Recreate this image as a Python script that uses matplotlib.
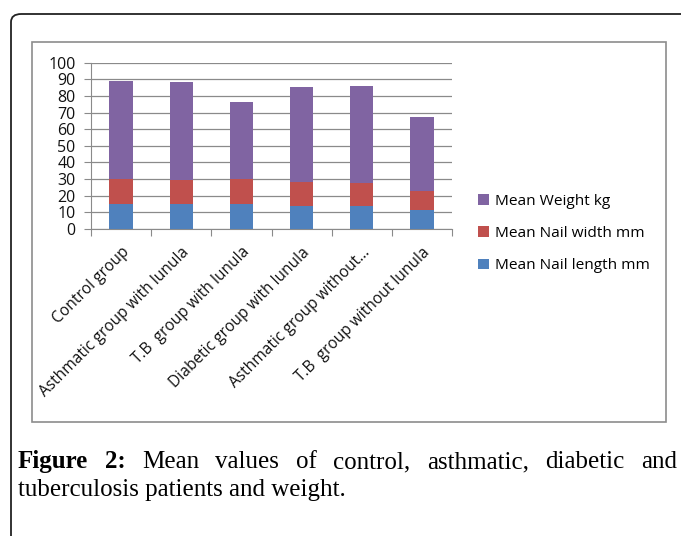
import numpy as np
import matplotlib
matplotlib.use('Agg')
import matplotlib.pyplot as plt
from matplotlib.patches import FancyBboxPatch, Rectangle

groups = ['Control group', 'Asthmatic group with lunula', 'T.B  group with lunula',
          'Diabetic group with lunula', 'Asthmatic group without...', 'T.B  group without lunula']
nail_length = [15.2, 15.2, 15.2, 14.0, 14.0, 11.4]
nail_width = [14.7, 14.3, 14.7, 14.3, 13.5, 11.6]
weight = [59.3, 58.7, 46.5, 57.3, 58.7, 44.3]
series_names = ['Mean Nail length mm', 'Mean Nail width mm', 'Mean Weight kg']
colors = ['#4F81BD', '#C0504D', '#8064A2']

W, H = 681, 536
fig = plt.figure(figsize=(W / 100, H / 100), dpi=100)

# outer black rounded frame (runs off the right/bottom edge)
frame = FancyBboxPatch((11 / W, 1 - 600 / H), 700 / W, (600 - 14) / H,
                       boxstyle='round,pad=0,rounding_size=0.015',
                       transform=fig.transFigure, fill=False, edgecolor='#222222',
                       linewidth=1.3, clip_on=False)
fig.patches.append(frame)

# inner grey chart box
box = Rectangle((32 / W, 1 - 422 / H), (666 - 32) / W, (422 - 42) / H,
                transform=fig.transFigure, fill=False, edgecolor='#8c8c8c', linewidth=1.2)
fig.patches.append(box)

ax = fig.add_axes([91 / W, 1 - 229 / H, (452 - 91) / W, (229 - 62.7) / H])
x = np.arange(len(groups))
bottom = np.zeros(len(groups))
handles = []
for vals, name, c in zip([nail_length, nail_width, weight], series_names, colors):
    b = ax.bar(x, vals, 0.39, bottom=bottom, color=c, label=name, zorder=3)
    handles.append(b)
    bottom += np.array(vals)

ax.set_xlim(-0.5, len(groups) - 0.5)
ax.set_ylim(0, 100)
ax.set_yticks(np.arange(0, 101, 10))
ax.grid(axis='y', color='#8a8a8a', linewidth=0.9, zorder=0)
for s in ['top', 'right']:
    ax.spines[s].set_visible(False)
ax.spines['left'].set_color('#8a8a8a')
ax.spines['bottom'].set_color('#8a8a8a')
ax.tick_params(axis='y', length=5, color='#8a8a8a', labelsize=11.5, pad=6)
ax.set_xticks(np.arange(-0.5, len(groups), 1))
ax.set_xticklabels([])
ax.tick_params(axis='x', which='major', length=5, color='#8a8a8a')
ax.set_xticks(x, minor=True)
ax.set_xticklabels(groups, minor=True, rotation=45, ha='right', rotation_mode='anchor',
                   fontsize=11.2)
ax.tick_params(axis='x', which='minor', length=0, pad=11)
for lab in ax.get_yticklabels() + ax.get_xticklabels(minor=True):
    lab.set_family('Open Sans')
    lab.set_color('#111111')

leg = fig.legend(handles[::-1], series_names[::-1], loc='upper left',
                 bbox_to_anchor=(464 / W, 1 - 180 / H), frameon=False,
                 prop={'family': 'Open Sans', 'size': 11.1}, handlelength=0.7,
                 handleheight=0.7, handletextpad=0.4, labelspacing=1.12)

# justified caption
fig.canvas.draw()
r = fig.canvas.get_renderer()
words = [('Figure', True), ('2:', True), ('Mean', False), ('values', False), ('of', False),
         ('control,', False), ('asthmatic,', False), ('diabetic', False), ('and', False)]
fs = 18
texts = []
for w, bold in words:
    t = fig.text(0, 0, w, fontsize=fs, family='Liberation Serif',
                 weight='bold' if bold else 'normal', va='baseline')
    texts.append(t)
widths = [t.get_window_extent(r).width for t in texts]
x0, x1 = 18, 677
gap = (x1 - x0 - sum(widths)) / (len(words) - 1)
cx = x0
for t, w in zip(texts, widths):
    t.set_position((cx / W, 1 - 468 / H))
    cx += w + gap
fig.text(18 / W, 1 - 496 / H, 'tuberculosis patients and weight.', fontsize=fs,
         family='Liberation Serif', va='baseline')

fig.savefig('out.png', dpi=100)
